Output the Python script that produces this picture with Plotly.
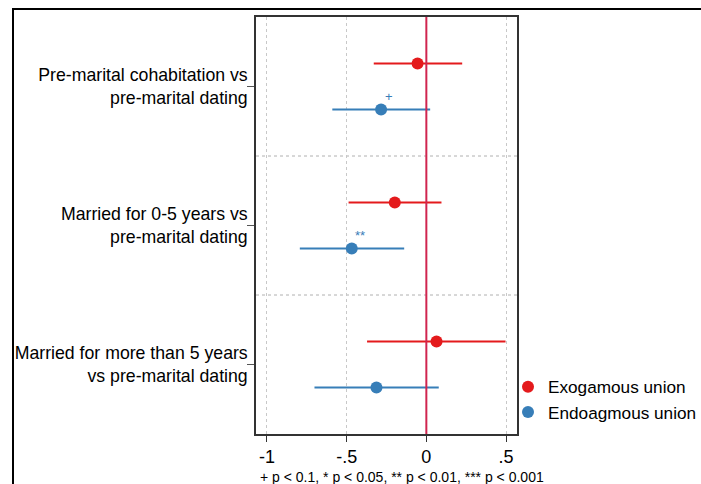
import plotly.graph_objects as go

categories = ["Pre-marital cohabitation vs<br>pre-marital dating",
              "Married for 0-5 years vs<br>pre-marital dating",
              "Married for more than 5 years<br>vs pre-marital dating"]
exo_est = [-0.055, -0.198, 0.064]
exo_lo = [-0.33, -0.488, -0.372]
exo_hi = [0.225, 0.095, 0.497]
endo_est = [-0.284, -0.468, -0.313]
endo_lo = [-0.59, -0.794, -0.702]
endo_hi = [0.024, -0.139, 0.078]
endo_sig = ["+", "**", ""]
x_ticks = [-1, -0.5, 0, 0.5]
x_ticklabels = ["-1", "-.5", "0", ".5"]

RED = "#e41a1c"
BLUE = "#377eb8"
FONT = "Liberation Sans, Arial, sans-serif"

centres = [1, 2, 3]
off = 0.165
y_exo = [c - off for c in centres]
y_endo = [c + off for c in centres]

fig = go.Figure()
fig.add_trace(go.Scatter(
    x=exo_est, y=y_exo, mode="markers", name="Exogamous union",
    marker=dict(color=RED, size=12),
    error_x=dict(type="data", symmetric=False,
                 array=[h - e for h, e in zip(exo_hi, exo_est)],
                 arrayminus=[e - l for l, e in zip(exo_lo, exo_est)],
                 color=RED, thickness=2, width=0)))
fig.add_trace(go.Scatter(
    x=endo_est, y=y_endo, mode="markers", name="Endoagmous union",
    marker=dict(color=BLUE, size=12),
    error_x=dict(type="data", symmetric=False,
                 array=[h - e for h, e in zip(endo_hi, endo_est)],
                 arrayminus=[e - l for l, e in zip(endo_lo, endo_est)],
                 color=BLUE, thickness=2, width=0)))

for x, y, s in zip(endo_est, y_endo, endo_sig):
    if s:
        fig.add_annotation(x=x, y=y, text=s, showarrow=False, xshift=8, yshift=13,
                           font=dict(color=BLUE, size=13, family=FONT))

# zero reference line
fig.add_shape(type="line", x0=0, x1=0, y0=0, y1=1, xref="x", yref="paper",
              line=dict(color="#d0254f", width=2), layer="above")
# group separators
for sep in [1.5, 2.5]:
    fig.add_shape(type="line", x0=0, x1=1, y0=sep, y1=sep, xref="paper", yref="y",
                  line=dict(color="#b0b0b0", width=1, dash="dot"), layer="below")

# outer frame (from the surrounding figure)
L, R, T, B = 256, 517, 17, 434
def px(xp):
    return (xp - L) / (R - L)
def py(yp):
    return (B - yp) / (B - T)
fig.add_shape(type="line", xref="paper", yref="paper", x0=px(12), x1=px(705),
              y0=py(9), y1=py(9), line=dict(color="black", width=2))
fig.add_shape(type="line", xref="paper", yref="paper", x0=px(13), x1=px(13),
              y0=py(9), y1=py(490), line=dict(color="black", width=2))

fig.add_annotation(xref="paper", yref="paper", x=px(258), y=py(477), xanchor="left",
                   yanchor="middle", showarrow=False,
                   text="+ p < 0.1, * p < 0.05, ** p < 0.01, *** p < 0.001",
                   font=dict(size=14, family=FONT, color="black"))

fig.update_xaxes(range=[-1.069, 0.569], tickvals=x_ticks, ticktext=x_ticklabels,
                 showgrid=True, gridcolor="#c8c8c8", griddash="dot", gridwidth=1,
                 zeroline=False, showline=True, linecolor="#333333", linewidth=1.5,
                 mirror=True, ticks="outside", ticklen=6, tickcolor="#333333",
                 automargin=False,
                 tickfont=dict(size=18, family=FONT, color="black"))
fig.update_yaxes(range=[3.5, 0.5], tickvals=centres, ticktext=categories,
                 showgrid=False, zeroline=False, showline=True, linecolor="#333333",
                 linewidth=1.5, mirror=True, ticks="outside", ticklen=7,
                 tickcolor="#555555", automargin=False, ticklabelstandoff=-4,
                 tickfont=dict(size=17.7, family=FONT, color="black"))

fig.update_layout(
    width=701, height=484, autosize=False,
    margin=dict(l=L, r=701 - R, t=T, b=484 - B, autoexpand=False),
    plot_bgcolor="white", paper_bgcolor="white",
    showlegend=True,
    legend=dict(x=px(508), y=py(369), xanchor="left", yanchor="top",
                font=dict(size=17.2, family=FONT, color="black"),
                bgcolor="rgba(0,0,0,0)", itemwidth=30, tracegroupgap=0),
    font=dict(family=FONT),
)

fig.write_html("out.html", config={"displayModeBar": False},
               post_script="document.body.style.margin='0';document.body.style.overflow='hidden';")
